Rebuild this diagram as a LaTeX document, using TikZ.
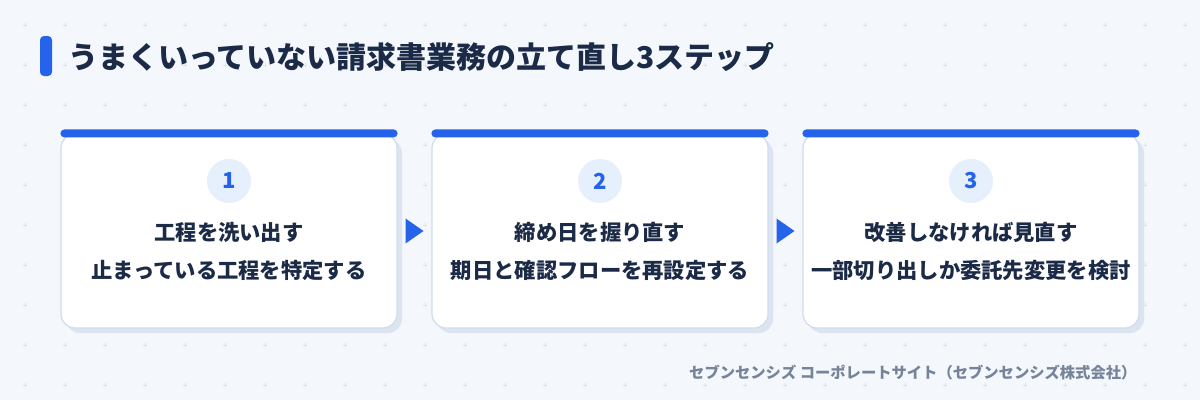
\documentclass[tikz,border=0pt]{standalone}
\usepackage{fontspec}
\setmainfont{Noto Sans CJK JP}
\usetikzlibrary{calc}
\usetikzlibrary{shadows}

\definecolor{bgcol}{HTML}{F4F7FC}
\definecolor{gridcol}{HTML}{DDE4EF}
\definecolor{accent}{HTML}{2563EB}
\definecolor{ink}{HTML}{1B2A47}
\definecolor{rimcol}{HTML}{CFDCEE}
\definecolor{shadecol}{HTML}{DCE4F0}
\definecolor{badgecol}{HTML}{E6EFFC}
\definecolor{notecol}{HTML}{76849A}

\begin{document}
\begin{tikzpicture}[x=1pt,y=-1pt,
		card/.style={draw=rimcol,line width=1.2pt,fill=white,rounded corners=14pt,minimum width=336pt,minimum height=194pt,
			drop shadow={shadow xshift=5pt,shadow yshift=-5pt,fill=shadecol,opacity=1}},
		badge/.style={circle,fill=badgecol,minimum size=44pt,inner sep=0pt,text=accent,font=\fontsize{22}{22}\selectfont\bfseries},
		steptext/.style={text=ink,font=\fontsize{21.3}{21.3}\selectfont\bfseries,inner sep=0pt}]
		% background and dot grid
		\fill[bgcol] (0,0) rectangle (1200,400);
		\foreach \x in {25,65,...,1185}
			\foreach \y in {25,65,...,385}
				\draw[gridcol,line width=0.7pt] (\x-2.2,\y) -- (\x+2.2,\y) (\x,\y-2.2) -- (\x,\y+2.2);

		% title
		\fill[accent,rounded corners=4pt] (40,36) rectangle (52,76);
		\node[anchor=west,inner sep=0pt,text=ink,font=\fontsize{30}{30}\selectfont\bfseries] (title) at (68,57) {うまくいっていない請求書業務の立て直し3ステップ};

		% cards
		\foreach \i/\cx/\lineA/\lineB in {1/229/工程を洗い出す/止まっている工程を特定する,
				2/600/締め日を握り直す/期日と確認フローを再設定する,
				3/971/改善しなければ見直す/一部切り出しか委託先変更を検討}{
			\node[card] (card\i) at (\cx,231) {};
			\fill[accent,rounded corners=4pt] ([yshift=4pt]card\i.north west) rectangle ([yshift=-4pt]card\i.north east);
			\node[badge] (num\i) at (\cx,181) {\i};
			\node[steptext] (first\i) at (\cx,232) {\lineA};
			\node[steptext] (second\i) at (\cx,270) {\lineB};
		}

		% arrows between the cards
		\foreach \a/\b in {1/2,2/3}{
			\coordinate (gap\a) at ($(card\a.east)!0.5!(card\b.west)$);
			\fill[accent] ($(gap\a)+(-9,-12.5)$) -- ($(gap\a)+(9,0)$) -- ($(gap\a)+(-9,12.5)$) -- cycle;
		}

		% source line
		\node[anchor=west,inner sep=0pt,text=notecol,font=\fontsize{15.3}{15.3}\selectfont\bfseries] (source) at (689,373) {セブンセンシズ コーポレートサイト（セブンセンシズ株式会社）};
	\end{tikzpicture}
\end{document}
